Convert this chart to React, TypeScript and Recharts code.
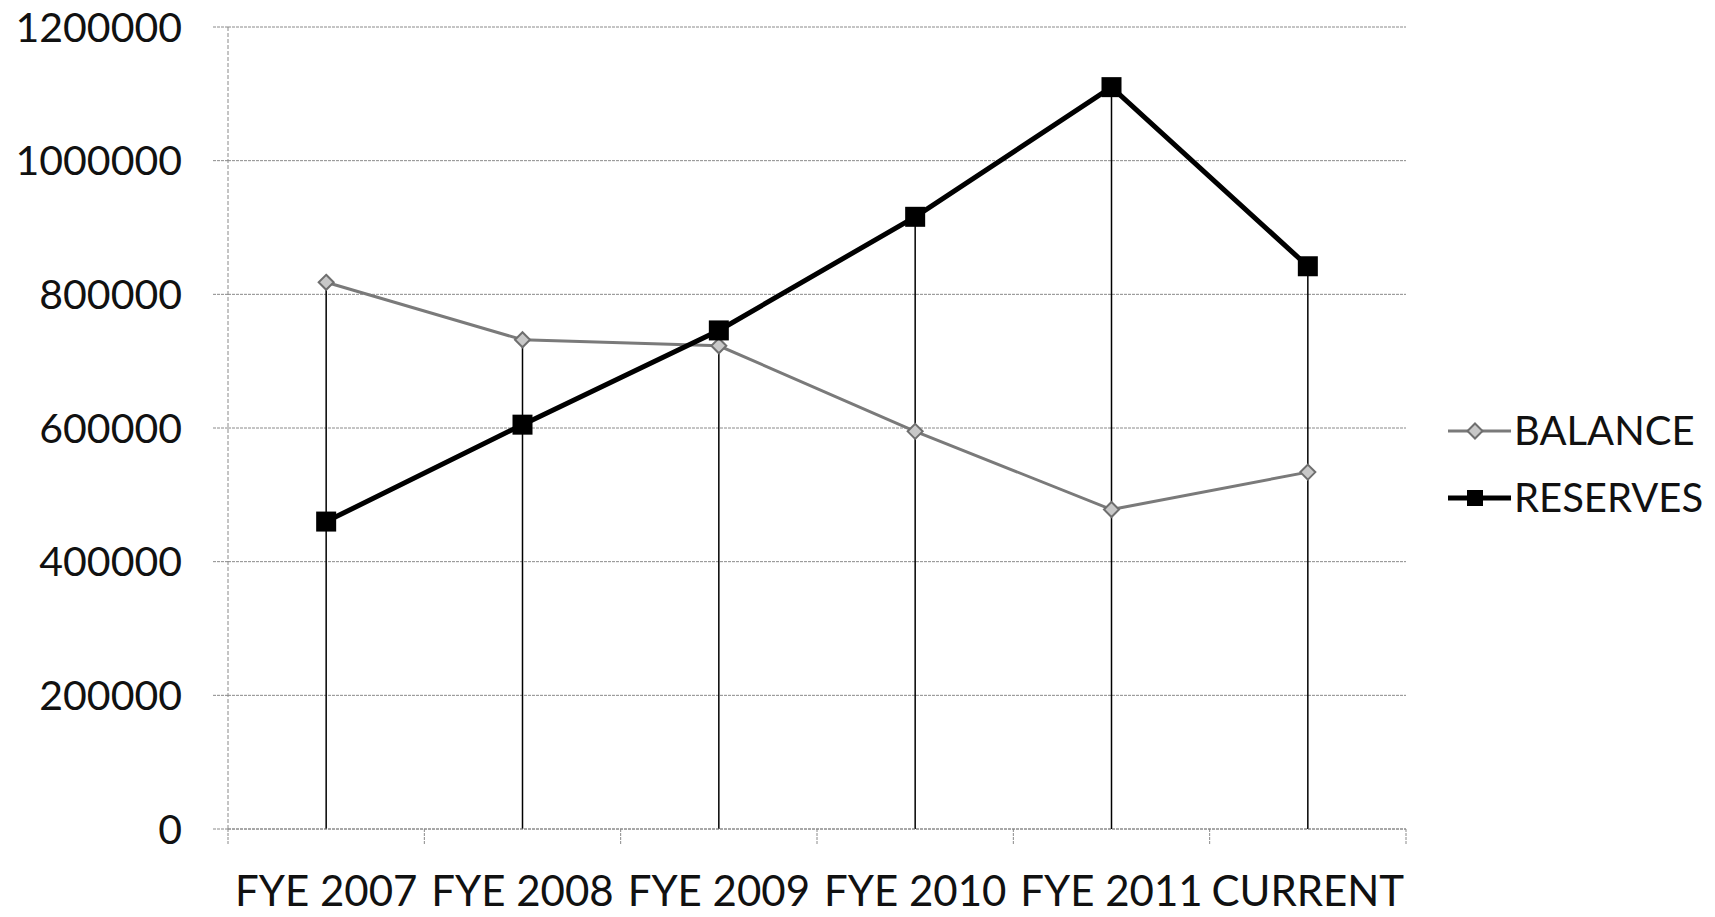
import React from 'react';
import { ComposedChart, Line, XAxis, YAxis, CartesianGrid, ReferenceLine } from 'recharts';

const categories = ['FYE 2007', 'FYE 2008', 'FYE 2009', 'FYE 2010', 'FYE 2011', 'CURRENT'];
const balance = [818000, 732000, 723000, 595000, 478000, 534000];
const reserves = [460000, 605000, 746000, 916000, 1110000, 842000];
const yTicks = [0, 200000, 400000, 600000, 800000, 1000000, 1200000];

const data = categories.map((c, i) => ({ name: c, balance: balance[i], reserves: reserves[i] }));
const dropTops = categories.map((c, i) => ({ name: c, top: Math.max(balance[i], reserves[i]) }));

const FONT = 'Lato, "Open Sans", sans-serif';
const PLOT_W = 1178;
const BAND = PLOT_W / categories.length;
const GRID = '#8a8a8a';

const XTick = (props: any) => {
  const { x, y, payload, index, visibleTicksCount } = props;
  const n = visibleTicksCount || categories.length;
  return (
    <g>
      <line x1={x - BAND / 2} x2={x - BAND / 2} y1={y} y2={y + 16} stroke={GRID} strokeDasharray="3 1" />
      {index === n - 1 && (
        <line x1={x + BAND / 2} x2={x + BAND / 2} y1={y} y2={y + 16} stroke={GRID} strokeDasharray="3 1" />
      )}
      <text x={x} y={y + 77} textAnchor="middle" fontSize={42} fontFamily={FONT} fill="#111">
        {payload.value}
      </text>
    </g>
  );
};

const Diamond = (props: any) => {
  const { cx, cy, index } = props;
  if (cx == null || cy == null) return <g key={`d${index}`} />;
  const r = 7.5;
  return (
    <polygon
      key={`d${index}`}
      points={`${cx},${cy - r} ${cx + r},${cy} ${cx},${cy + r} ${cx - r},${cy}`}
      fill="#c8c8c8"
      stroke="#6f6f6f"
      strokeWidth={2}
    />
  );
};

const Square = (props: any) => {
  const { cx, cy, index } = props;
  if (cx == null || cy == null) return <g key={`s${index}`} />;
  const s = 20;
  return <rect key={`s${index}`} x={cx - s / 2} y={cy - s / 2} width={s} height={s} fill="#000" />;
};

export default function App() {
  return (
    <div style={{ position: 'relative', width: 1700, height: 909, marginTop: -8 }}>
      <ComposedChart
        width={1700}
        height={917}
        data={data}
        margin={{ top: 27, right: 302, bottom: 0, left: 0 }}
      >
        <CartesianGrid vertical={false} stroke={GRID} strokeDasharray="3 1" />
        <XAxis
          dataKey="name"
          interval={0}
          height={88}
          tickSize={0}
          tickMargin={0}
          tickLine={false}
          padding={{ left: BAND / 2, right: BAND / 2 }}
          axisLine={{ stroke: GRID, strokeDasharray: '3 1' }}
          tick={<XTick />}
        />
        <YAxis
          type="number"
          domain={[0, 1200000]}
          ticks={yTicks}
          width={220}
          tickSize={15}
          tickMargin={31}
          tickLine={{ stroke: GRID, strokeDasharray: '3 1' }}
          axisLine={{ stroke: GRID, strokeDasharray: '4 2' }}
          tick={{ fontSize: 41, fontFamily: FONT, fill: '#111' }}
          interval={0}
        />
        {dropTops.map((d) => (
          <ReferenceLine
            key={d.name}
            segment={[
              { x: d.name, y: 0 },
              { x: d.name, y: d.top },
            ]}
            stroke="#000"
            strokeWidth={1.5}
          />
        ))}
        <Line
          type="linear"
          dataKey="balance"
          stroke="#7a7a7a"
          strokeWidth={3}
          dot={Diamond}
          activeDot={false}
          isAnimationActive={false}
        />
        <Line
          type="linear"
          dataKey="reserves"
          stroke="#000"
          strokeWidth={5}
          dot={Square}
          activeDot={false}
          isAnimationActive={false}
        />
      </ComposedChart>
      <div
        style={{
          position: 'absolute',
          left: 1440,
          top: 397,
          fontFamily: FONT,
          fontSize: 40,
          color: '#111',
          lineHeight: '67px',
        }}
      >
        <div style={{ display: 'flex', alignItems: 'center', height: 67 }}>
          <svg width={66} height={30} style={{ display: 'block' }}>
            <line x1={0} x2={63} y1={15} y2={15} stroke="#7a7a7a" strokeWidth={3} />
            <polygon points="27,7.5 34.5,15 27,22.5 19.5,15" fill="#c8c8c8" stroke="#6f6f6f" strokeWidth={2} />
          </svg>
          <span>BALANCE</span>
        </div>
        <div style={{ display: 'flex', alignItems: 'center', height: 67 }}>
          <svg width={66} height={30} style={{ display: 'block' }}>
            <line x1={0} x2={63} y1={15} y2={15} stroke="#000" strokeWidth={5} />
            <rect x={19} y={7} width={16} height={16} fill="#000" />
          </svg>
          <span>RESERVES</span>
        </div>
      </div>
    </div>
  );
}
